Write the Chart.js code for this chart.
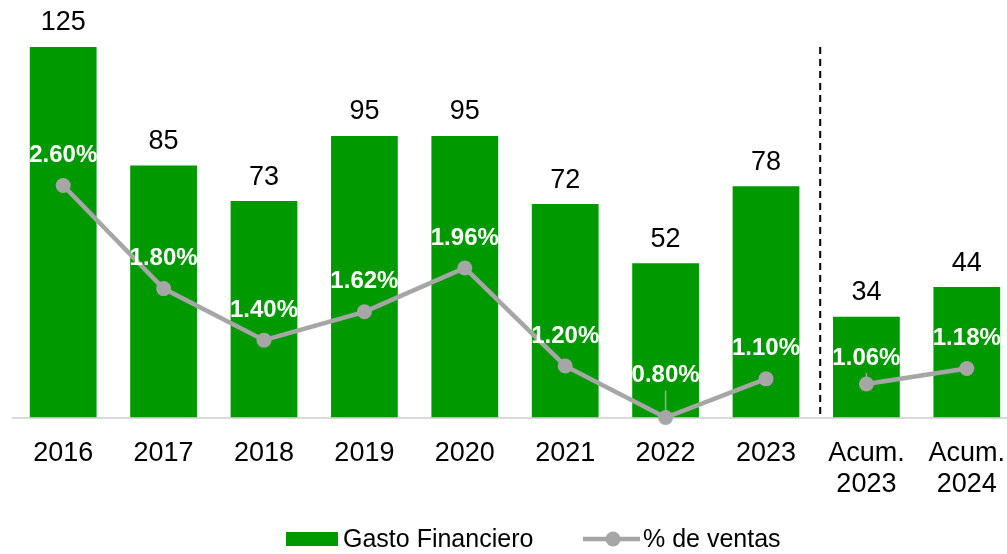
<!DOCTYPE html>
<html>
<head>
<meta charset="utf-8">
<script src="https://cdn.jsdelivr.net/npm/chart.js"></script>
<style>
  body { margin: 0; overflow: hidden; background: #fff; }
  #wrap { width: 1017px; height: 554px; }
</style>
</head>
<body>
<div id="wrap">
  <canvas id="myChart" width="1017" height="554"></canvas>
</div>

<script>
    // datos
    const categorias = ['2016', '2017', '2018', '2019', '2020', '2021', '2022', '2023', ['Acum.', '2023'], ['Acum.', '2024']];
    const gastoFinanciero = [125, 85, 73, 95, 95, 72, 52, 78, 34, 44];
    const pctVentas = [2.60, 1.80, 1.40, 1.62, 1.96, 1.20, 0.80, 1.10, 1.06, 1.18];

    const verde = '#009900';
    const gris = '#A6A6A6';
    const fuente = '"Liberation Sans", Arial, sans-serif';

    // offsets de las etiquetas de % (px por encima del punto)
    const pctOffset = { 6: 42, 8: 26 };
    const conGuia = [6, 8];

    const etiquetas = {
        id: 'etiquetas',
        afterDatasetsDraw(chart) {
            const ctx = chart.ctx;
            const bars = chart.getDatasetMeta(1).data;
            const pts = chart.getDatasetMeta(0).data;
            const y = chart.scales.y;
            ctx.save();

            // linea punteada entre 2023 y acumulados
            const xs = (bars[7].x + bars[8].x) / 2 + 4;
            ctx.strokeStyle = '#000';
            ctx.lineWidth = 2;
            ctx.setLineDash([7, 5]);
            ctx.beginPath();
            ctx.moveTo(xs, y.getPixelForValue(Math.max(...gastoFinanciero)));
            ctx.lineTo(xs, chart.chartArea.bottom);
            ctx.stroke();
            ctx.setLineDash([]);

            // valores sobre barras
            ctx.fillStyle = '#000';
            ctx.font = '27px ' + fuente;
            ctx.textAlign = 'center';
            ctx.textBaseline = 'middle';
            bars.forEach((b, i) => {
                ctx.fillText(gastoFinanciero[i], b.x, b.y - 24);
            });

            // porcentajes
            ctx.fillStyle = '#fff';
            ctx.font = 'bold 24px ' + fuente;
            pts.forEach((p, i) => {
                const off = pctOffset[i] || 30;
                if (conGuia.includes(i)) {
                    ctx.strokeStyle = gris;
                    ctx.lineWidth = 1.5;
                    ctx.beginPath();
                    ctx.moveTo(p.x, p.y - off + 15);
                    ctx.lineTo(p.x, p.y);
                    ctx.stroke();
                }
                ctx.fillText(pctVentas[i].toFixed(2) + '%', p.x, p.y - off);
            });
            ctx.restore();
        },
        afterDraw(chart) {
            // leyenda
            const ctx = chart.ctx;
            ctx.save();
            const ly = 539;
            ctx.fillStyle = verde;
            ctx.fillRect(286, 532, 52, 14);
            ctx.fillStyle = '#000';
            ctx.font = '25px ' + fuente;
            ctx.textBaseline = 'middle';
            ctx.textAlign = 'left';
            ctx.fillText('Gasto Financiero', 343, ly + 1);

            ctx.strokeStyle = gris;
            ctx.lineWidth = 4.5;
            ctx.beginPath();
            ctx.moveTo(583, ly);
            ctx.lineTo(640, ly);
            ctx.stroke();
            ctx.fillStyle = gris;
            ctx.beginPath();
            ctx.arc(613, ly, 7.5, 0, Math.PI * 2);
            ctx.fill();
            ctx.fillStyle = '#000';
            ctx.fillText('% de ventas', 643, ly + 1);
            ctx.restore();
        }
    };

    const ctx = document.getElementById('myChart');
    const myChart = new Chart(ctx, {
        data: {
            labels: categorias,
            datasets: [{
                type: 'line',
                label: '% de ventas',
                data: pctVentas,
                yAxisID: 'y1',
                order: 0,
                borderColor: gris,
                borderWidth: 4.5,
                pointRadius: 7.5,
                pointBackgroundColor: gris,
                pointBorderWidth: 0,
                tension: 0,
                clip: false,
                segment: {
                    borderColor: c => c.p0DataIndex === 7 ? 'rgba(0,0,0,0)' : gris
                }
            }, {
                type: 'bar',
                label: 'Gasto Financiero',
                data: gastoFinanciero,
                yAxisID: 'y',
                order: 1,
                backgroundColor: verde,
                barPercentage: 0.665,
                categoryPercentage: 1
            }]
        },
        options: {
            responsive: false,
            animation: false,
            layout: { autoPadding: false, padding: { top: 2.5, left: 13, right: 0, bottom: 0 } },
            plugins: {
                legend: { display: false },
                tooltip: { enabled: false }
            },
            scales: {
                x: {
                    grid: { display: false, drawTicks: false },
                    border: { display: true, color: '#D9D9D9', width: 2 },
                    ticks: {
                        color: '#000',
                        padding: 20.5,
                        maxRotation: 0,
                        autoSkip: false,
                        font: { family: fuente, size: 27, lineHeight: 1.15 }
                    },
                    afterFit: s => {
                        s.height = 136.5;
                        s.paddingLeft = 0;
                        s.paddingRight = 0;
                    }
                },
                y: { display: false, min: 0, max: 140 },
                y1: { display: false, min: 0.8, max: 4.02 }
            }
        },
        plugins: [etiquetas]
    });
</script>
</body>
</html>
